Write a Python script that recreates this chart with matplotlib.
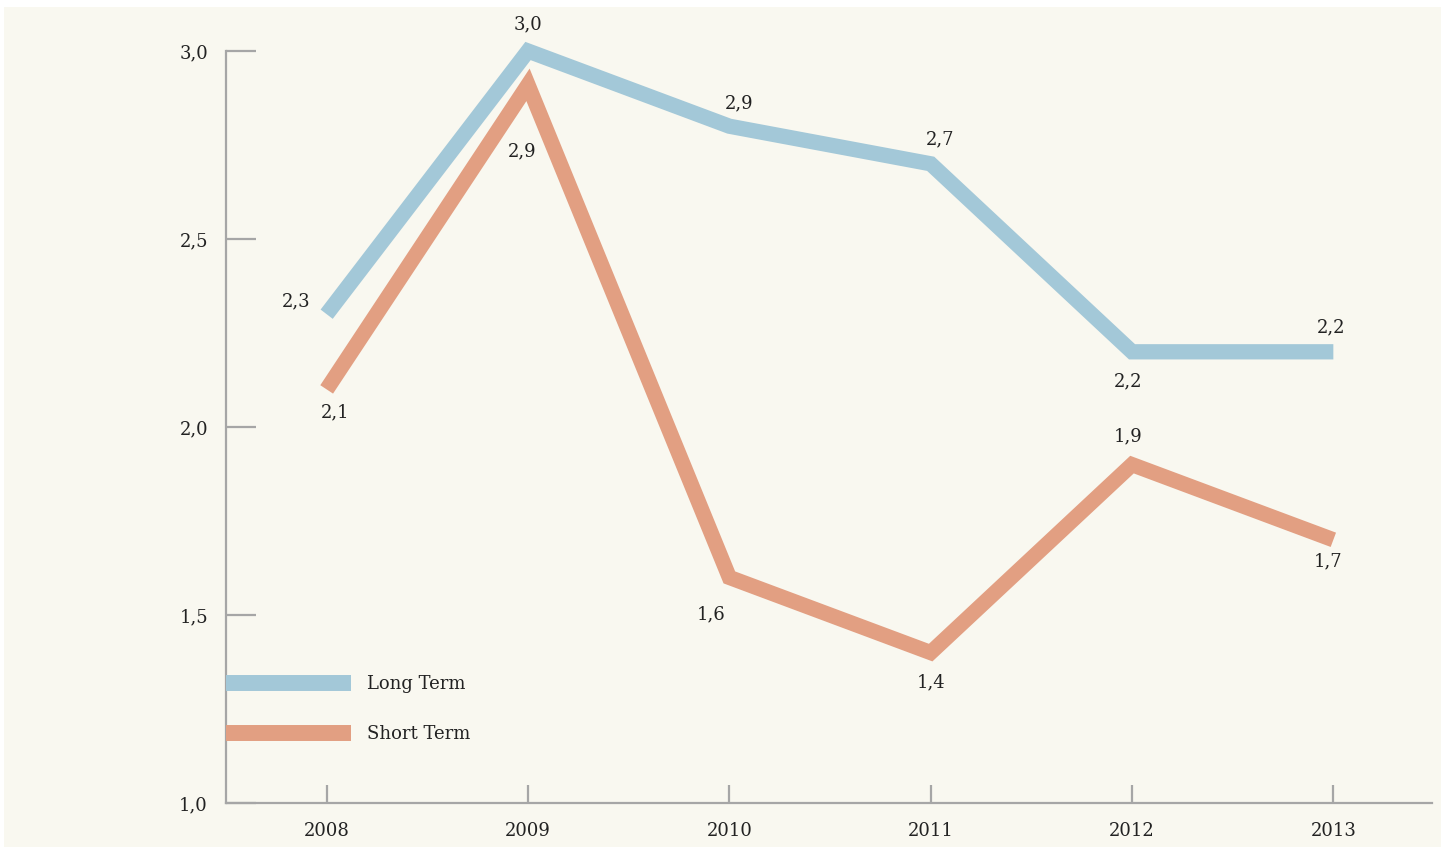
import matplotlib
matplotlib.use("Agg")
import matplotlib.pyplot as plt
from matplotlib.patches import Rectangle
from matplotlib.ticker import FuncFormatter

years = [2008, 2009, 2010, 2011, 2012, 2013]
long_term = [2.30, 3.00, 2.80, 2.70, 2.20, 2.20]
short_term = [2.10, 2.91, 1.60, 1.40, 1.90, 1.70]
long_labels = ["2,3", "3,0", "2,9", "2,7", "2,2", "2,2"]
short_labels = ["2,1", "2,9", "1,6", "1,4", "1,9", "1,7"]
yticks = [1.0, 1.5, 2.0, 2.5, 3.0]

# label offsets in pixels (dx, dy) relative to each point (style only)
long_off = [(-31, 13), (0, 27), (10, 23), (9, 24), (-4, -30), (-2, 24)]
short_off = [(8, -23), (-6, -67), (-18, -37), (0, -30), (-4, 28), (-5, -22)]

BLUE = "#a3c8d8"
ORANGE = "#e29f82"
CREAM = "#f9f8f0"
GREY = "#a6a6a6"
TXT = "#222222"
FONT = "DejaVu Serif"
FS = 13

W, H = 1452, 847
fig = plt.figure(figsize=(W / 100, H / 100), dpi=100)
fig.patch.set_facecolor("white")
fig.patches.append(Rectangle((4 / W, 0), (1441 - 4) / W, (H - 7) / H,
                             transform=fig.transFigure, facecolor=CREAM,
                             edgecolor="none", zorder=-10))

ax = fig.add_axes([226 / W, 1 - 803 / H, (1432 - 226) / W, (803 - 51) / H])
ax.set_facecolor("none")
ax.set_xlim(2007.5, 2013.49)
ax.set_ylim(1.0, 3.0)

lw = 11
ax.plot(years, long_term, color=BLUE, lw=lw, solid_joinstyle="miter",
        solid_capstyle="butt", clip_on=False, label="Long Term", zorder=3)
ax.plot(years, short_term, color=ORANGE, lw=lw, solid_joinstyle="miter",
        solid_capstyle="butt", clip_on=False, label="Short Term", zorder=3)

px = 72 / 100
for x, y, t, (dx, dy) in zip(years, long_term, long_labels, long_off):
    ax.annotate(t, (x, y), xytext=(dx * px, dy * px), textcoords="offset points",
                ha="center", va="center", fontsize=FS, family=FONT, color=TXT)
for x, y, t, (dx, dy) in zip(years, short_term, short_labels, short_off):
    ax.annotate(t, (x, y), xytext=(dx * px, dy * px), textcoords="offset points",
                ha="center", va="center", fontsize=FS, family=FONT, color=TXT)

for s in ["top", "right"]:
    ax.spines[s].set_visible(False)
for s in ["left", "bottom"]:
    ax.spines[s].set_color(GREY)
    ax.spines[s].set_linewidth(1.6)

ax.set_yticks(yticks)
ax.yaxis.set_major_formatter(FuncFormatter(lambda v, p: f"{v:.1f}".replace(".", ",")))
ax.set_xticks(years)
ax.set_xticklabels([str(y) for y in years])
ax.tick_params(axis="y", direction="in", length=21.6, width=1.6, color=GREY,
               pad=13, labelsize=FS, labelcolor=TXT)
ax.tick_params(axis="x", direction="in", length=13, width=1.6, color=GREY,
               pad=14, labelsize=FS, labelcolor=TXT)
for lab in ax.get_xticklabels() + ax.get_yticklabels():
    lab.set_family(FONT)

leg = ax.legend(loc="center left", bbox_to_anchor=(0, 0.1248), frameon=False,
                borderpad=0, borderaxespad=0, handlelength=6.92,
                handletextpad=0.89, labelspacing=1.76,
                prop={"family": FONT, "size": FS})
for h in leg.get_lines():
    h.set_linewidth(11.5)
    h.set_solid_capstyle("butt")
for t in leg.get_texts():
    t.set_color(TXT)

fig.savefig("out.png", dpi=100, facecolor=fig.get_facecolor())
